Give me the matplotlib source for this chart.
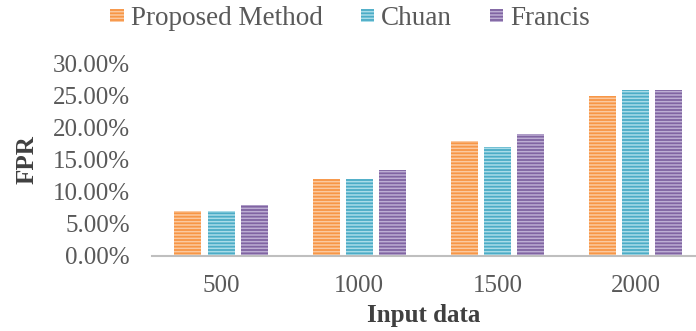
import matplotlib
matplotlib.use("Agg")
import matplotlib.pyplot as plt
import numpy as np

categories = ["500", "1000", "1500", "2000"]
series_names = ["Proposed Method", "Chuan", "Francis"]
proposed = [7.0, 12.0, 18.0, 25.0]
chuan = [7.0, 12.0, 17.0, 26.0]
francis = [8.0, 13.5, 19.0, 26.0]
yticks = [0, 5, 10, 15, 20, 25, 30]

face_colors = ["#F79646", "#4BACC6", "#8064A2"]
stripe_colors = ["#FBC9A0", "#A9DCE8", "#BDAED3"]

plt.rcParams['font.family'] = ['Liberation Serif', 'DejaVu Serif']
plt.rcParams['hatch.linewidth'] = 1.1

fig = plt.figure(figsize=(6.96, 3.31), dpi=100)
ax = fig.add_axes([152/696, 1 - 256/331, (695-152)/696, (256-64)/331])

x = np.arange(len(categories))
width = 0.195
offsets = [-0.24, 0.0, 0.24]
handles = []
for vals, name, fc, sc, off in zip([proposed, chuan, francis], series_names, face_colors, stripe_colors, offsets):
    b = ax.bar(x + off, vals, width, color=fc, edgecolor=sc, linewidth=0, hatch='-----', label=name)
    handles.append(b)

ax.set_xlim(-0.5, 3.43)
ax.set_ylim(0, 30)
ax.set_yticks(yticks)
ax.set_yticklabels([f"{v:.2f}%" for v in yticks], fontsize=18, color="#595959")
ax.set_xticks(x)
ax.set_xticklabels(categories, fontsize=18, color="#595959")
ax.tick_params(axis='y', length=0, pad=16)
ax.tick_params(axis='x', length=0, pad=14)
for s in ['top', 'right', 'left']:
    ax.spines[s].set_visible(False)
ax.spines['bottom'].set_color('#BFBFBF')
ax.spines['bottom'].set_linewidth(1.5)

ax.set_ylabel("FPR", fontsize=18, fontweight='bold', color="#404040", labelpad=10)
ax.set_xlabel("Input data", fontsize=18, fontweight='bold', color="#404040", labelpad=5)

leg = fig.legend(handles=handles, labels=series_names, loc='upper center', bbox_to_anchor=(0.503, 1.055),
                 ncol=3, frameon=False, fontsize=19.5, handlelength=0.5, handleheight=0.4,
                 handletextpad=0.25, columnspacing=1.4, labelcolor="#595959")

fig.savefig("out.png", dpi=100)
